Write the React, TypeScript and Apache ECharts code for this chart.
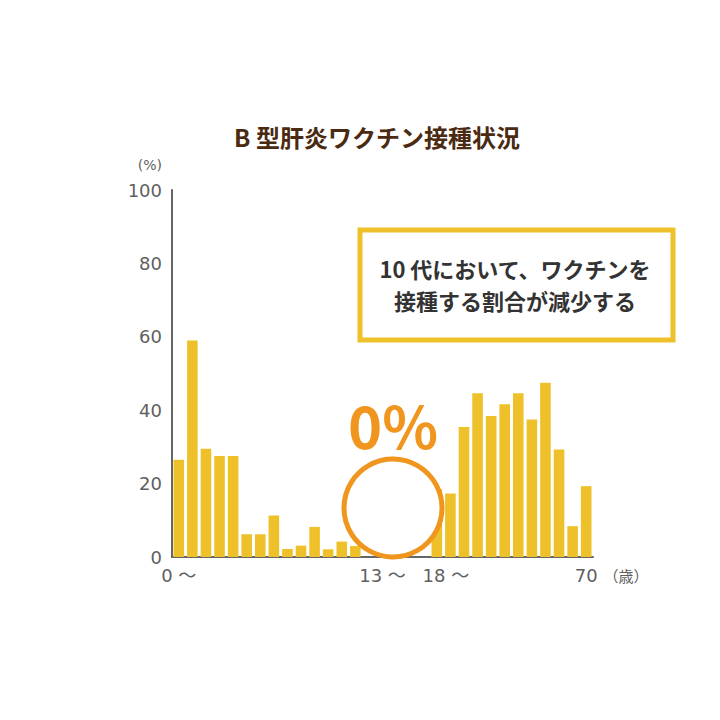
import * as echarts from 'echarts';
import { useEffect, useRef } from 'react';

// 年齢区分ごとの接種率（%）
const tickLabels = [
  '0 ～', '', '', '', '', '', '', '', '', '', '', '', '', '', '',
  '13 ～', '', '', '', '18 ～', '', '', '', '', '', '', '', '', '', '', '70',
];
const categories = tickLabels.map((_, i) => `g${i}`);
const rates = [
  26.5, 59, 29.5, 27.5, 27.5, 6.2, 6.2, 11.3, 2.2, 3.1, 8.2, 2.1, 4.2, 3.0,
  0, 0, 0, 0, 0,
  18.4, 17.3, 35.4, 44.6, 38.4, 41.6, 44.6, 37.5, 47.5, 29.3, 8.4, 19.3,
];
const yTicks = [0, 20, 40, 60, 80, 100];

const FONT = '"Noto Sans CJK JP", "Noto Sans", sans-serif';
const NUM_FONT = '"DejaVu Sans", "Noto Sans CJK JP", sans-serif';
const YELLOW = '#EEC12A';
const ORANGE = '#F0961E';
const LABEL = '#5f5f5f';

export default function App() {
  const container = useRef<HTMLDivElement | null>(null);

  useEffect(() => {
    if (!container.current) return;
    const chart = echarts.init(container.current, undefined, { renderer: 'svg' });
    chart.setOption({
      animation: false,
      backgroundColor: '#fff',
      textStyle: { fontFamily: FONT },
      title: {
        text: 'B 型肝炎ワクチン接種状況',
        left: 372,
        top: 119,
        textAlign: 'center',
        textStyle: { fontSize: 24, fontWeight: 'bold', color: '#4b2a12', fontFamily: FONT },
      },
      grid: { left: 172, right: 127, top: 190, bottom: 163 },
      xAxis: {
        type: 'category',
        data: categories,
        name: '（歳）',
        nameLocation: 'end',
        nameGap: 8,
        nameTextStyle: {
          fontSize: 15,
          color: LABEL,
          align: 'left',
          verticalAlign: 'top',
          lineHeight: 36,
          fontFamily: FONT,
        },
        axisLine: { lineStyle: { color: '#666', width: 2 } },
        axisTick: { show: false },
        axisLabel: {
          interval: 0,
          margin: 9,
          fontSize: 18,
          color: LABEL,
          fontWeight: 'normal',
          fontFamily: NUM_FONT,
          formatter: (_: string, i: number) => (i === 19 ? `{s|${tickLabels[i]}}` : tickLabels[i]),
          rich: {
            s: { fontSize: 18, color: LABEL, fontFamily: NUM_FONT, padding: [0, 0, 0, 18] },
          },
        },
      },
      yAxis: {
        type: 'value',
        min: yTicks[0],
        max: yTicks[yTicks.length - 1],
        interval: 20,
        name: '(%)',
        nameLocation: 'end',
        nameGap: 18,
        nameTextStyle: {
          fontSize: 14,
          color: LABEL,
          align: 'right',
          padding: [0, 10, 0, 0],
          fontFamily: NUM_FONT,
        },
        axisLine: { show: true, lineStyle: { color: '#666', width: 2 } },
        axisTick: { show: false },
        splitLine: { show: false },
        axisLabel: { fontSize: 18, color: LABEL, margin: 10, fontWeight: 'normal', fontFamily: NUM_FONT },
      },
      series: [
        {
          type: 'bar',
          data: rates,
          barCategoryGap: '22%',
          itemStyle: { color: YELLOW },
          z: 2,
        },
      ],
      graphic: [
        {
          type: 'circle',
          shape: { cx: 393, cy: 508, r: 49 },
          style: { fill: '#fff', stroke: ORANGE, lineWidth: 5 },
          z: 100,
        },
        {
          type: 'text',
          x: 393,
          y: 424,
          style: {
            text: '0%',
            fontSize: 58,
            fontWeight: 'bold',
            fill: ORANGE,
            fontFamily: FONT,
            align: 'center',
            verticalAlign: 'middle',
          },
          z: 100,
        },
        {
          type: 'rect',
          shape: { x: 360, y: 230, width: 313, height: 110 },
          style: { fill: '#fff', stroke: YELLOW, lineWidth: 5 },
          z: 100,
        },
        {
          type: 'text',
          x: 515,
          y: 268,
          style: {
            text: '10 代において、ワクチンを',
            fontSize: 22,
            fontWeight: 'bold',
            fill: '#333',
            fontFamily: FONT,
            align: 'center',
            verticalAlign: 'middle',
          },
          z: 101,
        },
        {
          type: 'text',
          x: 515,
          y: 300,
          style: {
            text: '接種する割合が減少する',
            fontSize: 22,
            fontWeight: 'bold',
            fill: '#333',
            fontFamily: FONT,
            align: 'center',
            verticalAlign: 'middle',
          },
          z: 101,
        },
      ],
    });
    return () => chart.dispose();
  }, []);

  return (
    <div
      ref={container}
      style={{ position: 'fixed', left: 0, top: 0, width: 720, height: 720, background: '#fff' }}
    />
  );
}
